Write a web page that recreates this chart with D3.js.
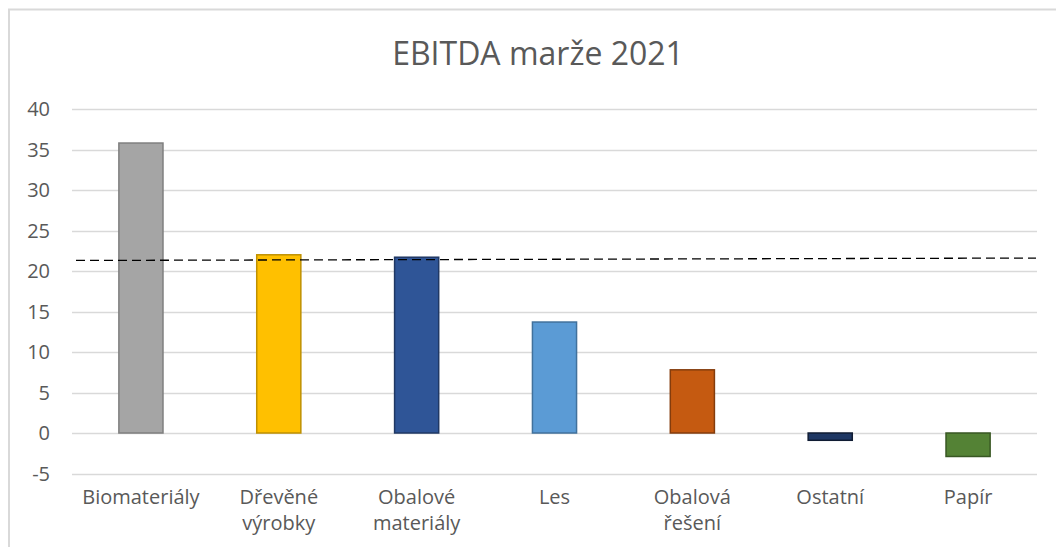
<!DOCTYPE html>
<html>
<head>
<meta charset="utf-8">
<script src="https://cdn.jsdelivr.net/npm/d3@7"></script>
<style>
  body { margin: 0; background: #fff; }
  text { font-family: "Open Sans", "Noto Sans", sans-serif; fill: #595959; }
</style>
</head>
<body>
<script>
// Data
const categories = ["Biomateriály", "Dřevěné výrobky", "Obalové materiály", "Les", "Obalová řešení", "Ostatní", "Papír"];
const margins = [35.8, 22.0, 21.7, 13.7, 7.8, -0.9, -2.9];
const fills = ["#a5a5a5", "#ffc000", "#2f5597", "#5b9bd5", "#c55a11", "#1f3864", "#548235"];
const strokes = ["#7f7f7f", "#bf9000", "#203864", "#41719c", "#843c0c", "#101c33", "#385723"];
const yTicks = [-5, 0, 5, 10, 15, 20, 25, 30, 35, 40];
const avgLine = [21.3, 21.6];   // dashed reference line, start and end value

const width = 1056,
    height = 547;

const svg = d3.select('body').append('svg')
    .attr('width', width)
    .attr('height', height);

// outer chart border (cut off at right and bottom)
svg.append('path')
    .attr('d', 'M9,' + height + 'V9.5H' + width)
    .attr('fill', 'none')
    .attr('stroke', '#d9d9d9')
    .attr('stroke-width', 2);

const x = d3.scaleBand()
    .domain(categories)
    .range([72, 1037])
    .paddingInner(0.68)
    .paddingOuter(0.34);

const y = d3.scaleLinear()
    .domain([-5, 40])
    .range([473.5, 109]);

// Title
svg.append('text')
    .attr('x', 538)
    .attr('y', 65)
    .attr('text-anchor', 'middle')
    .attr('font-size', 32)
    .text('EBITDA marže 2021');

// Gridlines
svg.append('g')
    .selectAll('line')
    .data(yTicks)
    .enter()
    .append('line')
    .attr('x1', 72)
    .attr('x2', 1037)
    .attr('y1', d => Math.round(y(d)) + 0.5)
    .attr('y2', d => Math.round(y(d)) + 0.5)
    .attr('stroke', '#d9d9d9')
    .attr('stroke-width', 1.5);

// Y tick labels
svg.append('g')
    .selectAll('text')
    .data(yTicks)
    .enter()
    .append('text')
    .attr('x', 50)
    .attr('y', d => y(d) + 7)
    .attr('text-anchor', 'end')
    .attr('font-size', 20)
    .text(d => d);

// Bars
svg.append('g')
    .selectAll('rect')
    .data(margins)
    .enter()
    .append('rect')
    .attr('x', (d, i) => x(categories[i]))
    .attr('width', x.bandwidth())
    .attr('y', d => y(Math.max(0, d)))
    .attr('height', d => Math.abs(y(d) - y(0)))
    .attr('fill', (d, i) => fills[i])
    .attr('stroke', (d, i) => strokes[i])
    .attr('stroke-width', 1.5);

// Dashed average line
svg.append('line')
    .attr('x1', 76)
    .attr('x2', 1036)
    .attr('y1', y(avgLine[0]))
    .attr('y2', y(avgLine[1]))
    .attr('stroke', '#000')
    .attr('stroke-width', 1.3)
    .attr('stroke-dasharray', '9,5');

// Category labels (wrapped to two lines)
let labels = svg.append('g')
    .selectAll('text')
    .data(categories)
    .enter()
    .append('text')
    .attr('text-anchor', 'middle')
    .attr('font-size', 20)
    .attr('transform', d => 'translate(' + (x(d) + x.bandwidth() / 2) + ',504)');

labels.selectAll('tspan')
    .data(d => d.split(' '))
    .enter()
    .append('tspan')
    .attr('x', 0)
    .attr('dy', (d, i) => i === 0 ? 0 : 26)
    .text(d => d);
</script>
</body>
</html>
